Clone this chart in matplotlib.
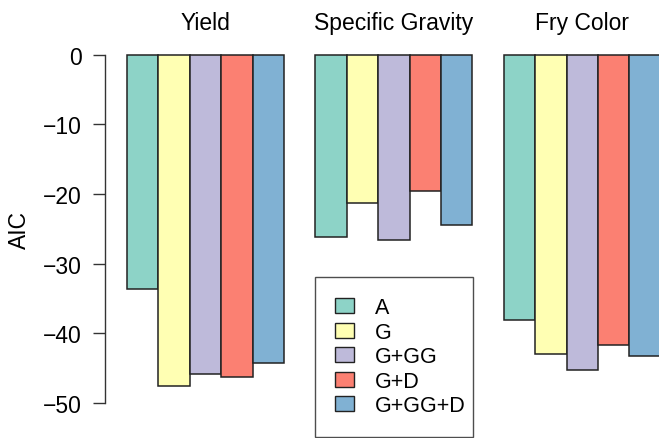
import matplotlib
matplotlib.use("Agg")
import numpy as np
import matplotlib.pyplot as plt

# AIC for each trait under the five models
traits = ["Yield", "Specific Gravity", "Fry Color"]
models = ["A", "G", "G+GG", "G+D", "G+GG+D"]
yield_aic = [-33.7, -47.5, -45.8, -46.2, -44.3]
sg_aic = [-26.2, -21.3, -26.6, -19.6, -24.5]
fry_aic = [-38.1, -42.9, -45.2, -41.7, -43.3]
colors = ["#8DD3C7", "#FFFFB3", "#BEBADA", "#FB8072", "#80B1D3"]
yticks = [0, -10, -20, -30, -40, -50]

plt.rcParams["font.family"] = ["Liberation Sans", "DejaVu Sans"]

W, H = 659, 439
fig = plt.figure(figsize=(W / 100, H / 100), dpi=100)

# axes box in pixels: spine at x=105, y from 0 (55.7px) to -50 (404px)
left, top, bottom = 105, 55.7, 404
ax = fig.add_axes([left / W, (H - bottom) / H, (W - left) / W, (bottom - top) / H])

bw = 31.4  # bar width in px
ax.set_xlim(1 - 22 / bw, 1 + (W - 127) / bw)
ax.set_ylim(-50, 0)

# barplot(beside=TRUE) layout: one empty slot between groups
for g, vals in enumerate([yield_aic, sg_aic, fry_aic]):
    x0 = 1 + g * 6
    xs = x0 + np.arange(len(models))
    ax.bar(xs, vals, width=1, align="edge", color=colors,
           edgecolor="#222222", linewidth=1.1, clip_on=False)
    ax.text(x0 + 2.5, 1.06, traits[g], transform=ax.get_xaxis_transform(),
            ha="center", va="bottom", fontsize=16.5)

for s in ["top", "right", "bottom"]:
    ax.spines[s].set_visible(False)
ax.spines["left"].set_bounds(-50, 0)
ax.spines["left"].set_linewidth(1.0)
ax.spines["left"].set_color("#333333")
ax.set_xticks([])
ax.set_yticks(yticks)
ax.tick_params(axis="y", length=8.6, width=1.0, color="#333333",
               pad=8, labelsize=16.5)
ax.set_ylabel("AIC", fontsize=16.5, labelpad=9)

handles = [plt.Rectangle((0, 0), 1, 1, facecolor=c, edgecolor="#222222",
                         linewidth=1.0) for c in colors]
leg = fig.legend(handles, models, loc="upper left", mode="expand",
                 bbox_to_anchor=(315 / W, (H - 278) / H, 158 / W, 0),
                 fontsize=15.5, frameon=True, fancybox=False,
                 handlelength=0.85, handleheight=0.7, handletextpad=1.0,
                 labelspacing=0.16, borderpad=0.95, borderaxespad=0)
leg.get_frame().set_edgecolor("#222222")
leg.get_frame().set_linewidth(1.0)

fig.savefig("out.png", dpi=100)
